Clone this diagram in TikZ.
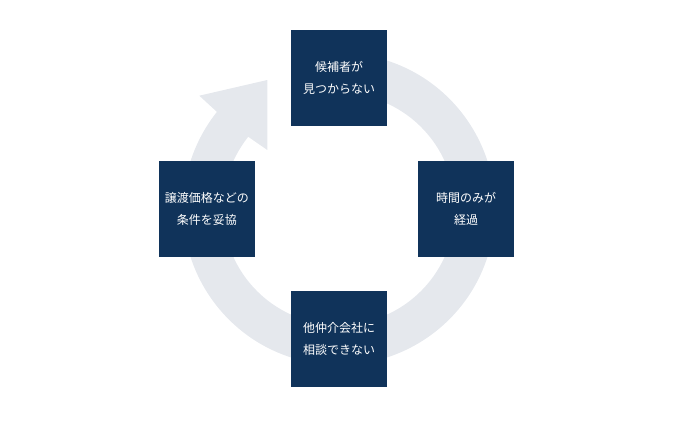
\documentclass[tikz,border=0pt]{standalone}
\usepackage{fontspec}
\setmainfont{Noto Sans CJK JP}
\definecolor{navy}{HTML}{10335A}
\definecolor{ringgray}{HTML}{E5E8ED}
\tikzset{
  stepbox/.style={fill=navy,text=white,minimum width=96pt,minimum height=96pt,
    inner sep=0pt,align=center,font=\fontsize{12}{22}\selectfont}
}
\begin{document}
\begin{tikzpicture}[x=1pt,y=1pt]
\useasboundingbox (-339,-218) rectangle (361,209);
% ring with arrow head
\fill[ringgray] (80:156) arc (80:-218.5:156) -- (-139.7,113.3) -- (-71.7,129)
  -- (-71.7,59) -- (-218.5:116) arc (-218.5:80:116) -- cycle;
\node[stepbox] (top) at(0,131){候補者が\\見つからない};
\node[stepbox] (right) at(127,0){時間のみが\\経過};
\node[stepbox] (bottom) at(0,-130){他仲介会社に\\相談できない};
\node[stepbox] (left) at(-132,0){譲渡価格などの\\条件を妥協};
\end{tikzpicture}
\end{document}
